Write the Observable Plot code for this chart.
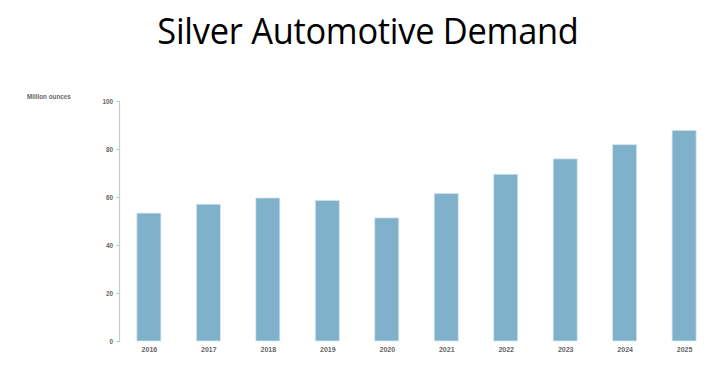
<!DOCTYPE html>
<html>
<head>
<meta charset="utf-8">
<script src="https://cdn.jsdelivr.net/npm/d3@7"></script>
<script src="https://cdn.jsdelivr.net/npm/@observablehq/plot@0.6"></script>
<style>
  html, body { margin: 0; padding: 0; background: #fff; }
  #wrap { position: relative; width: 724px; height: 370px; overflow: hidden; background: #fff; }
  #title { position: absolute; left: 6px; top: 11px; width: 724px; text-align: center; line-height: 1;
           font-family: "Open Sans", sans-serif; font-size: 37px; color: #000; letter-spacing: -0.3px;
           transform: scaleX(0.93); transform-origin: 362px 0; white-space: nowrap; }
  #unit { position: absolute; left: 27px; top: 93px; z-index: 2; font-family: "Liberation Sans", Arial, sans-serif;
          font-size: 6.3px; font-weight: bold; color: #666; }
  #chart { position: absolute; left: 0; top: 80px; z-index: 1; }
</style>
</head>
<body>
<div id="wrap">
  <div id="title">Silver Automotive Demand</div>
  <div id="unit">Million ounces</div>
  <div id="chart"></div>
</div>
<script>
const years = ["2016","2017","2018","2019","2020","2021","2022","2023","2024","2025"];
const demand = [53.3, 57.0, 59.6, 58.6, 51.3, 61.5, 69.5, 75.9, 81.8, 87.8];
const yTicks = [0, 20, 40, 60, 80, 100];

const data = years.map((y, i) => ({year: y, value: demand[i]}));

const chart = Plot.plot({
  width: 724,
  height: 290,
  marginLeft: 119,
  marginRight: 10,
  marginTop: 21,
  marginBottom: 29,
  style: {fontFamily: "Liberation Sans, Arial, sans-serif", fontWeight: "bold", color: "#666", background: "transparent"},
  x: {domain: years, paddingInner: 0.595, paddingOuter: 0.3, round: false, label: null},
  y: {domain: [0, 100], label: null},
  marks: [
    Plot.axisX({tickSize: 0, tickPadding: 6, fontSize: 7, fill: "#666", label: null}),
    Plot.axisY({ticks: yTicks, tickSize: 2.5, tickPadding: 4, fontSize: 6.3, stroke: "#bbb", fill: "#666", label: null}),
    Plot.frame({anchor: "left", stroke: "#ccc", strokeWidth: 1.2}),
    Plot.barY(data, {x: "year", y: "value", fill: "#80b1cb", stroke: "#d8e8f0", strokeWidth: 0.8})
  ]
});
document.getElementById("chart").appendChild(chart);
</script>
</body>
</html>
